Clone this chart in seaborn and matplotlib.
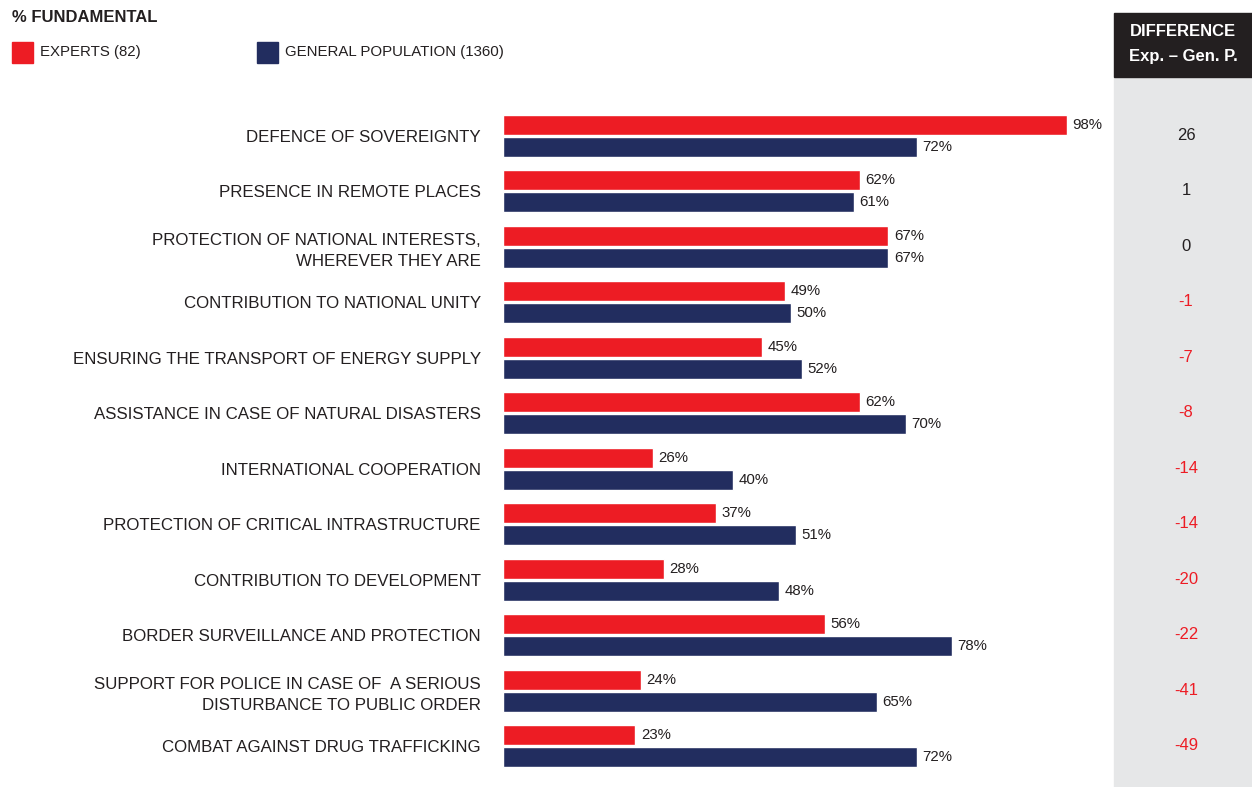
import matplotlib.pyplot as plt
import matplotlib.transforms as mtransforms
from matplotlib.patches import Rectangle
import seaborn as sns
import pandas as pd

# categories (top to bottom)
categories = [
    "DEFENCE OF SOVEREIGNTY",
    "PRESENCE IN REMOTE PLACES",
    "PROTECTION OF NATIONAL INTERESTS,\nWHEREVER THEY ARE",
    "CONTRIBUTION TO NATIONAL UNITY",
    "ENSURING THE TRANSPORT OF ENERGY SUPPLY",
    "ASSISTANCE IN CASE OF NATURAL DISASTERS",
    "INTERNATIONAL COOPERATION",
    "PROTECTION OF CRITICAL INTRASTRUCTURE",
    "CONTRIBUTION TO DEVELOPMENT",
    "BORDER SURVEILLANCE AND PROTECTION",
    "SUPPORT FOR POLICE IN CASE OF  A SERIOUS\nDISTURBANCE TO PUBLIC ORDER",
    "COMBAT AGAINST DRUG TRAFFICKING",
]
experts = [98, 62, 67, 49, 45, 62, 26, 37, 28, 56, 24, 23]
general = [72, 61, 67, 50, 52, 70, 40, 51, 48, 78, 65, 72]
difference = [26, 1, 0, -1, -7, -8, -14, -14, -20, -22, -41, -49]
series_names = ["EXPERTS (82)", "GENERAL POPULATION (1360)"]

RED = "#ed1c24"
NAVY = "#222d5f"
TXT = "#231f20"

sns.set_theme(style="white")
plt.rcParams["font.family"] = ["Liberation Sans", "DejaVu Sans"]

df = pd.DataFrame({
    "category": categories * 2,
    "value": experts + general,
    "group": [series_names[0]] * len(categories) + [series_names[1]] * len(categories),
})

W, H = 1252, 787
fig = plt.figure(figsize=(W / 100, H / 100), dpi=100)

# grey difference column and its dark header (drawn behind everything)
fig.patches.append(Rectangle((1114 / W, 0), 138 / W, 1 - 78 / H,
                             transform=fig.transFigure, color="#e6e7e8", zorder=0))
fig.patches.append(Rectangle((1114 / W, 1 - 77 / H), 138 / W, 64 / H,
                             transform=fig.transFigure, color="#231f20", zorder=0))

# axes placement in pixels
x0, x1 = 503, 1110
y_top, y_bot = 108, 774
ax = fig.add_axes([x0 / W, 1 - y_bot / H, (x1 - x0) / W, (y_bot - y_top) / H])
ax.set_zorder(2)
ax.patch.set_visible(False)

sns.barplot(
    data=df, y="category", x="value", hue="group", orient="h",
    palette=[RED, NAVY], width=0.8, gap=0.1, ax=ax, legend=False,
    saturation=1,
)
ax.set_xlim(0, (x1 - x0) / 5.75)
ax.set_ylim(len(categories) - 0.5, -0.5)
for s in ax.spines.values():
    s.set_visible(False)
ax.set_xticks([])
ax.set_xlabel("")
ax.set_ylabel("")
ax.tick_params(axis="y", length=0, pad=16, labelsize=12.2, labelcolor=TXT)
for lab in ax.get_yticklabels():
    lab.set_linespacing(1.45)

for cont in ax.containers:
    ax.bar_label(cont, fmt="%d%%", padding=4, fontsize=10.8, color=TXT)

fig.text(1183 / W, 1 - 32 / H, "DIFFERENCE", ha="center", va="center",
         color="white", fontsize=12, fontweight="bold")
fig.text(1183 / W, 1 - 57 / H, "Exp. – Gen. P.", ha="center", va="center",
         color="white", fontsize=12, fontweight="bold")
trans = mtransforms.blended_transform_factory(fig.transFigure, ax.transData)
for i, d in enumerate(difference):
    ax.text(1186 / W, i - 0.04, f"{d}", transform=trans, ha="center",
            va="center_baseline", fontsize=12,
            color=RED if d < 0 else TXT, clip_on=False)

# title and legend
fig.text(12 / W, 1 - 17 / H, "% FUNDAMENTAL", ha="left", va="center",
         fontsize=12, fontweight="bold", color=TXT)
for xs, color, name in [(12, RED, series_names[0]), (257, NAVY, series_names[1])]:
    fig.patches.append(Rectangle((xs / W, 1 - 63 / H), 21 / W, 21 / H,
                                 transform=fig.transFigure, color=color))
    fig.text((xs + 28) / W, 1 - 52 / H, name, ha="left", va="center",
             fontsize=10.8, color=TXT)

fig.savefig("out.png", dpi=100)
